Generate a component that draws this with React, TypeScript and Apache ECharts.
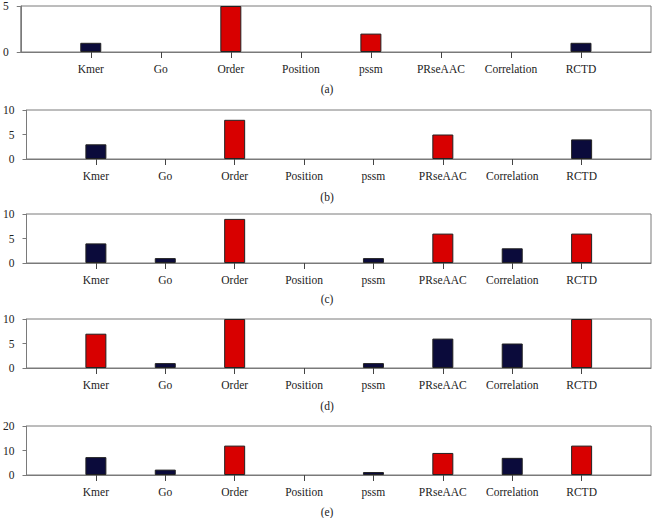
import React, { useEffect, useRef } from "react";
import * as echarts from "echarts";

const categories = ["Kmer", "Go", "Order", "Position", "pssm", "PRseAAC", "Correlation", "RCTD"];
const panelLabels = ["(a)", "(b)", "(c)", "(d)", "(e)"];

const valuesA = [1, 0, 5, 0, 2, 0, 0, 1];
const valuesB = [3, 0, 8, 0, 0, 5, 0, 4];
const valuesC = [4, 1, 9, 0, 1, 6, 3, 6];
const valuesD = [7, 1, 10, 0, 1, 6, 5, 10];
const valuesE = [7.3, 2.2, 12, 0, 1.2, 9, 7, 12];

// which bars are red (1) vs navy (0)
const redA = [0, 0, 1, 0, 1, 0, 0, 0];
const redB = [0, 0, 1, 0, 0, 1, 0, 0];
const redC = [0, 0, 1, 0, 0, 1, 0, 1];
const redD = [1, 0, 1, 0, 0, 0, 0, 1];
const redE = [0, 0, 1, 0, 0, 1, 0, 1];

const yMax = [5, 10, 10, 10, 20];
const yInterval = [5, 5, 5, 5, 10];

const allValues = [valuesA, valuesB, valuesC, valuesD, valuesE];
const allRed = [redA, redB, redC, redD, redE];

const NAVY = "#0b0b3b";
const RED = "#d80000";
const FRAME = "#7a7a7a";
const TEXT = "#222";
const FONT = "Liberation Serif";

const gridTops = [3, 110, 214, 319, 426];
const gridHeight = 49;
const labelYs = [89, 197, 299, 406, 512];

export default function App() {
  const ref = useRef<HTMLDivElement>(null);
  useEffect(() => {
    if (!ref.current) return;
    const chart = echarts.init(ref.current, null, { renderer: "svg" });
    const xData = ["", ...categories, ""];
    const grids = gridTops.map((t) => ({
      left: 19,
      right: 2,
      top: t,
      height: gridHeight,
      show: true,
      borderColor: FRAME,
      borderWidth: 1,
      backgroundColor: "transparent",
    }));
    const xAxes = gridTops.map((_, i) => ({
      type: "category",
      gridIndex: i,
      data: xData,
      boundaryGap: false,
      axisLine: { show: true, lineStyle: { color: FRAME, width: 1 } },
      axisTick: {
        show: true,
        length: 6,
        lineStyle: { color: "#444" },
        interval: (idx: number) => idx > 0 && idx < xData.length - 1,
      },
      axisLabel: {
        interval: 0,
        margin: 11,
        fontSize: 11.5,
        fontFamily: FONT,
        color: TEXT,
      },
      splitLine: { show: false },
    }));
    const yAxes = gridTops.map((_, i) => ({
      type: "value",
      gridIndex: i,
      min: 0,
      max: yMax[i],
      interval: yInterval[i],
      axisLine: { show: true, lineStyle: { color: FRAME, width: 1 } },
      axisTick: { show: true, length: 4, lineStyle: { color: FRAME } },
      axisLabel: { margin: 12, fontSize: 11.5, fontFamily: FONT, color: TEXT },
      splitLine: { show: false },
    }));
    const series = allValues.map((vals, i) => ({
      type: "bar",
      xAxisIndex: i,
      yAxisIndex: i,
      barWidth: 21,
      data: [
        null,
        ...vals.map((v, j) => ({
          value: v,
          itemStyle: {
            color: allRed[i][j] ? RED : NAVY,
            borderColor: "#222",
            borderWidth: v === 0 ? 0 : 1,
          },
        })),
        null,
      ],
    }));
    const graphics = panelLabels.map((t, i) => ({
      type: "text",
      x: 327,
      y: labelYs[i],
      style: {
        text: t,
        textAlign: "center",
        textVerticalAlign: "middle",
        fontSize: 11.5,
        fontFamily: FONT,
        fill: TEXT,
      },
    }));
    chart.setOption({
      animation: false,
      backgroundColor: "#fff",
      grid: grids,
      xAxis: xAxes,
      yAxis: yAxes,
      series,
      graphic: graphics,
    } as any);
    return () => chart.dispose();
  }, []);
  return (
    <div
      ref={ref}
      style={{ position: "fixed", left: 0, top: 0, width: 654, height: 518 }}
    />
  );
}
